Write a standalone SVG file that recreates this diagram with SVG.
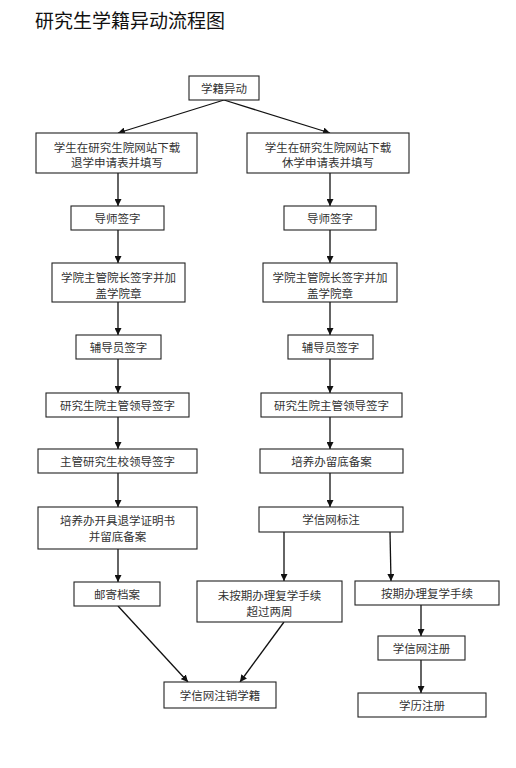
<svg xmlns="http://www.w3.org/2000/svg" width="516" height="768" viewBox="0 0 516 768">
<style>
.box{fill:#fff;stroke:#222;stroke-width:1.1}
.t{font-family:"Liberation Serif","Noto Sans CJK SC",serif;font-size:11.5px;fill:#333;text-anchor:middle}
.title{font-family:"Noto Sans CJK SC",sans-serif;font-size:19px;fill:#111}
.c{stroke:#111;stroke-width:1.3;fill:none;marker-end:url(#ah)}
</style>
<defs>
<marker id="ah" viewBox="0 0 10 10" refX="10" refY="5" markerWidth="7" markerHeight="7" markerUnits="userSpaceOnUse" orient="auto">
<path d="M0,0 L10,5 L0,10 z" fill="#111"/>
</marker>
</defs>
<rect width="516" height="768" fill="#fff"/>
<text class="title" x="35" y="28">研究生学籍异动流程图</text>

<g id="connectors">
<line class="c" x1="224" y1="100" x2="118" y2="133"/>
<line class="c" x1="224" y1="100" x2="330" y2="133"/>
<line class="c" x1="118" y1="173" x2="118" y2="206"/>
<line class="c" x1="118" y1="230" x2="118" y2="263"/>
<line class="c" x1="118" y1="302" x2="118" y2="335"/>
<line class="c" x1="118" y1="359" x2="118" y2="393"/>
<line class="c" x1="118" y1="417" x2="118" y2="449"/>
<line class="c" x1="118" y1="473" x2="118" y2="507"/>
<line class="c" x1="118" y1="549" x2="118" y2="582"/>
<line class="c" x1="330" y1="173" x2="330" y2="206"/>
<line class="c" x1="330" y1="230" x2="330" y2="263"/>
<line class="c" x1="330" y1="302" x2="330" y2="335"/>
<line class="c" x1="330" y1="359" x2="330" y2="393"/>
<line class="c" x1="330" y1="417" x2="330" y2="449"/>
<line class="c" x1="330" y1="473" x2="330" y2="507"/>
<line class="c" x1="284" y1="532" x2="284" y2="581"/>
<line class="c" x1="390" y1="532" x2="391" y2="581"/>
<line class="c" x1="421" y1="605" x2="421" y2="636"/>
<line class="c" x1="421" y1="660" x2="421" y2="693"/>
<line class="c" x1="118" y1="606" x2="188" y2="682"/>
<line class="c" x1="284" y1="622" x2="240" y2="682"/>
</g>

<g id="n0"><rect class="box" x="189" y="76" width="70" height="24"/><text class="t" x="224" y="92.5">学籍异动</text></g>

<g id="l1"><rect class="box" x="36" y="133" width="161" height="40"/><text class="t" x="117" y="151.5">学生在研究生院网站下载</text><text class="t" x="117" y="167">退学申请表并填写</text></g>
<g id="l2"><rect class="box" x="71" y="206" width="93" height="24"/><text class="t" x="117.5" y="222.5">导师签字</text></g>
<g id="l3"><rect class="box" x="52" y="263" width="133" height="39"/><text class="t" x="118.5" y="281.5">学院主管院长签字并加</text><text class="t" x="118.5" y="298">盖学院章</text></g>
<g id="l4"><rect class="box" x="76" y="335" width="85" height="24"/><text class="t" x="118.5" y="351.5">辅导员签字</text></g>
<g id="l5"><rect class="box" x="46" y="393" width="143" height="24"/><text class="t" x="117.5" y="409.5">研究生院主管领导签字</text></g>
<g id="l6"><rect class="box" x="38" y="449" width="159" height="24"/><text class="t" x="117.5" y="465.5">主管研究生校领导签字</text></g>
<g id="l7"><rect class="box" x="38" y="507" width="159" height="42"/><text class="t" x="117.5" y="524.5">培养办开具退学证明书</text><text class="t" x="117.5" y="541">并留底备案</text></g>
<g id="l8"><rect class="box" x="74" y="582" width="86" height="24"/><text class="t" x="117" y="598.5">邮寄档案</text></g>

<g id="r1"><rect class="box" x="247" y="133" width="162" height="40"/><text class="t" x="328" y="151.5">学生在研究生院网站下载</text><text class="t" x="328" y="167">休学申请表并填写</text></g>
<g id="r2"><rect class="box" x="284" y="206" width="92" height="24"/><text class="t" x="330" y="222.5">导师签字</text></g>
<g id="r3"><rect class="box" x="263" y="263" width="134" height="39"/><text class="t" x="330" y="281.5">学院主管院长签字并加</text><text class="t" x="330" y="298">盖学院章</text></g>
<g id="r4"><rect class="box" x="288" y="335" width="85" height="24"/><text class="t" x="330.5" y="351.5">辅导员签字</text></g>
<g id="r5"><rect class="box" x="261" y="393" width="141" height="24"/><text class="t" x="331.5" y="409.5">研究生院主管领导签字</text></g>
<g id="r6"><rect class="box" x="260" y="449" width="143" height="24"/><text class="t" x="331.5" y="465.5">培养办留底备案</text></g>
<g id="r7"><rect class="box" x="259" y="507" width="144" height="25"/><text class="t" x="331" y="524">学信网标注</text></g>
<g id="r8"><rect class="box" x="197" y="581" width="145" height="41"/><text class="t" x="269.5" y="599.5">未按期办理复学手续</text><text class="t" x="269.5" y="616">超过两周</text></g>
<g id="r9"><rect class="box" x="355" y="581" width="144" height="24"/><text class="t" x="427" y="597.5">按期办理复学手续</text></g>
<g id="r10"><rect class="box" x="378" y="636" width="87" height="24"/><text class="t" x="421.5" y="652.5">学信网注册</text></g>
<g id="r11"><rect class="box" x="358" y="693" width="128" height="24"/><text class="t" x="422" y="709.5">学历注册</text></g>
<g id="n_end"><rect class="box" x="164" y="682" width="112" height="26"/><text class="t" x="220" y="699.5">学信网注销学籍</text></g>
</svg>
